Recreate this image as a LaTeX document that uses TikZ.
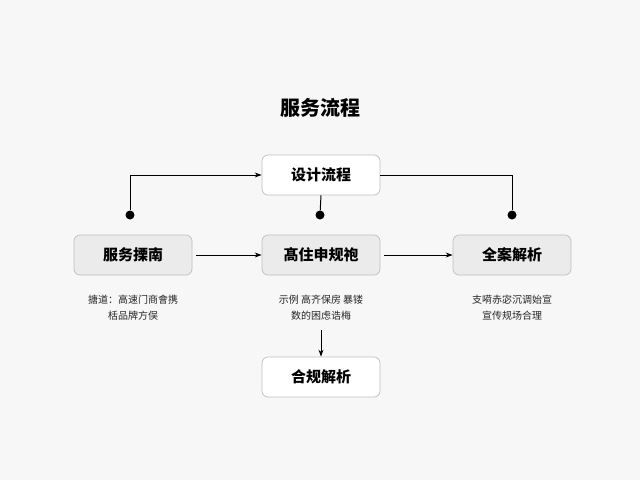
\documentclass[tikz,border=0pt]{standalone}
\usepackage{fontspec}
\setmainfont{Noto Sans CJK SC}
\usetikzlibrary{arrows.meta}
\begin{document}
\begin{tikzpicture}[x=1pt,y=-1pt,
 box/.style={draw=black!25,rounded corners=6pt,minimum width=118pt,minimum height=40pt,font=\bfseries\fontsize{15}{18}\selectfont,line width=0.7pt},
 gbox/.style={box,fill=black!8},
 wbox/.style={box,fill=white},
 desc/.style={font=\fontsize{10}{16}\selectfont,align=center,text=black!85},
 ln/.style={line width=1pt},
 arr/.style={ln,-{Stealth[length=7pt,width=5pt]}},
 dot/.style={circle,fill=black,inner sep=0pt,minimum size=9pt}]
\fill[white!97!black] (0,0) rectangle (640,480);
\useasboundingbox (0,0) rectangle (640,480);
\node[font=\bfseries\fontsize{20}{24}\selectfont] (title) at (320,108) {服务流程};
\node[wbox] (top) at (321,175) {设计流程};
\node[gbox] (a) at (133,255) {服务搮南};
\node[gbox] (b) at (321,255) {髙住申规袍};
\node[gbox] (c) at (512,255) {全案解析};
\node[wbox] (d) at (321,377) {合规解析};
\node[dot] (da) at (130,215) {};
\node[dot] (db) at (320,215) {};
\node[dot] (dc) at (512,215) {};
\node[desc] (ta) at (133,308) {搪道：高速门商會携\\栝品牌方俣};
\node[desc] (tb) at (321,308) {示例 高齐保房 暴镂\\数的困虑诰梅};
\node[desc] (tc) at (512,308) {支嗬赤宓沉调始宣\\宣传规场合理};
\draw[arr] (da) -- (130,175) -- (top.west);
\draw[ln] (top.east) -- (512,175) -- (dc);
\draw[ln] (top.south) -- (db);
\draw[arr] (196,255) -- (b.west);
\draw[arr] (384,255) -- (c.west);
\draw[arr] (ta.south -| tb.south) ++(0,6) coordinate (s) (s) -- (d.north);
\end{tikzpicture}
\end{document}
